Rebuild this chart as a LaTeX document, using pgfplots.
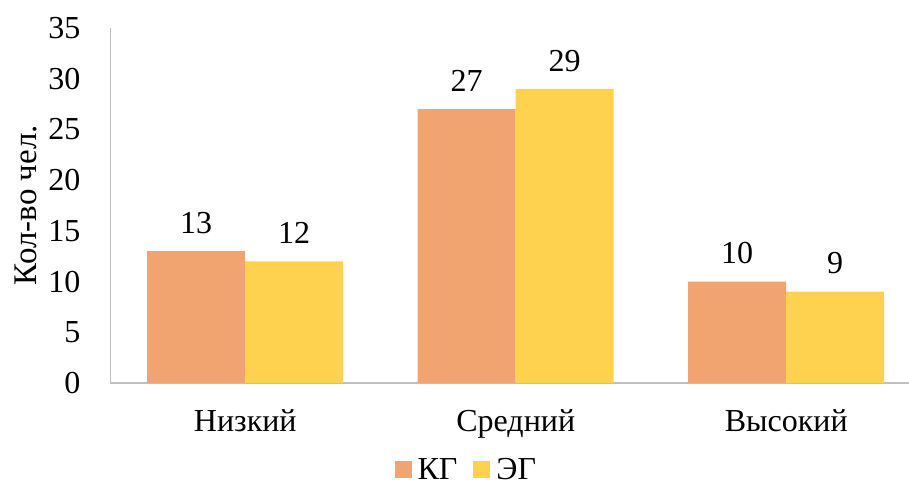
\documentclass[border=0pt]{standalone}
\usepackage{pgfplots}
\pgfplotsset{compat=1.18}
\usepackage{fontspec}
\setmainfont{Liberation Serif}
\definecolor{kg}{HTML}{F1A46F}
\definecolor{eg}{HTML}{FED14F}
\definecolor{axg}{HTML}{BFBFBF}
\begin{document}
\begin{tikzpicture}[x=1pt,y=1pt]
\useasboundingbox (0,0) rectangle (909,494);
\begin{axis}[
  at={(110pt,111pt)}, anchor=south west,
  scale only axis, width=799pt, height=355pt,
  ymin=0, ymax=35, ytick={0,5,...,35},
  xmin=-0.5, xmax=2.454,
  xtick={0,1,2}, xticklabels={Низкий,Средний,Высокий},
  ybar=0pt, bar width=98pt,
  axis x line*=bottom, axis y line*=left,
  x axis line style={draw=axg, line width=1.5pt, -},
  y axis line style={draw=axg, line width=0.8pt, -},
  major tick length=0pt,
  /pgf/number format/assume math mode=true,
  tick label style={font=\fontsize{32}{32}\selectfont},
  yticklabel style={xshift=-26pt},
  xticklabel style={yshift=-23pt},
  ylabel={Кол-во чел.}, ylabel style={font=\fontsize{33}{33}\selectfont, at={(axis description cs:-0.105,0.501)}, anchor=center},
  nodes near coords, every node near coord/.append style={font=\fontsize{32}{32}\selectfont, yshift=14pt},
  legend style={at={(0.446,-0.245)}, anchor=center, draw=none, legend columns=2, font=\fontsize{32}{32}\selectfont, /tikz/every even column/.style={column sep=14pt}, /tikz/every odd column/.style={column sep=4pt}},
  legend image code/.code={\fill[#1] (0pt,-8.5pt) rectangle (17pt,8.5pt);},
]
\addplot[fill=kg, draw=none] coordinates {(0,13) (1,27) (2,10)};
\addplot[fill=eg, draw=none] coordinates {(0,12) (1,29) (2,9)};
\legend{КГ,ЭГ}
\end{axis}
\end{tikzpicture}
\end{document}
